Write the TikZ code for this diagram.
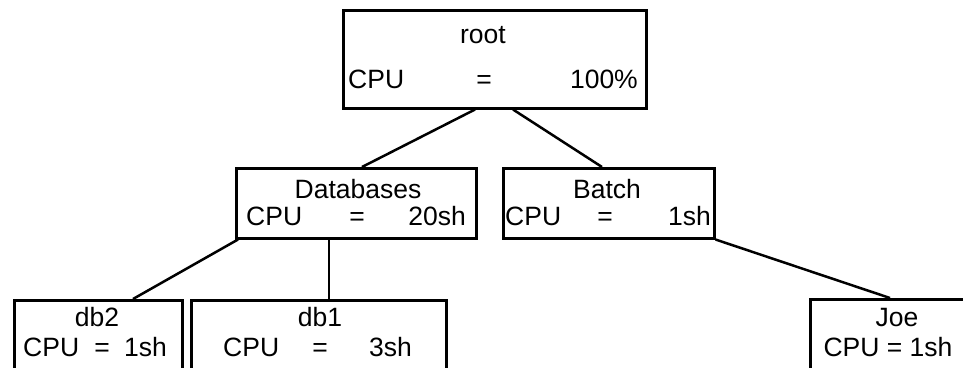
\documentclass[tikz,border=0pt]{standalone}
\usepackage{fontspec}
\setmainfont{Liberation Sans}
\usetikzlibrary{calc}
\begin{document}
\begin{tikzpicture}[x=1pt,y=-1pt,
  box/.style={draw, line width=2.5pt, inner sep=0pt, anchor=north west},
  lbl/.style={inner sep=0pt, text height=0.73em, text depth=0.2em, font=\fontsize{26.5}{26.5}\selectfont},
  conn/.style={line width=2.5pt}]
\useasboundingbox (0,0) rectangle (963,367);
\begin{scope}
\clip (0,0) rectangle (963,367);
% boxes
\node[box, minimum width=303pt, minimum height=98pt] (root) at (342,9) {};
\node[box, minimum width=240pt, minimum height=70pt] (dbs) at (235,167) {};
\node[box, minimum width=211pt, minimum height=70pt] (batch) at (502,167) {};
\node[box, minimum width=168pt, minimum height=90pt] (db2) at (13,299) {};
\node[box, minimum width=255pt, minimum height=90pt] (db1) at (190,299) {};
\node[box, minimum width=180pt, minimum height=90pt] (joe) at (809,298) {};
% root text
\node[lbl, anchor=base] (rootname) at (483,43) {root};
\node[lbl, anchor=base west] (rootk) at (348,88) {CPU};
\node[lbl, anchor=base] (rooteq) at (484,88) {=};
\node[lbl, anchor=base east] (rootv) at (638,88) {100\%};
% Databases text
\node[lbl, anchor=base] (dbsname) at (358,198) {Databases};
\node[lbl, anchor=base west] (dbsk) at (246,225) {CPU};
\node[lbl, anchor=base] (dbseq) at (357,225) {=};
\node[lbl, anchor=base east] (dbsv) at (466,225) {20sh};
% Batch text
\node[lbl, anchor=base] (batchname) at (607,198) {Batch};
\node[lbl, anchor=base west] (batchk) at (505,225) {CPU};
\node[lbl, anchor=base] (batcheq) at (605,225) {=};
\node[lbl, anchor=base east] (batchv) at (711,225) {1sh};
% db2 text
\node[lbl, anchor=base] (db2name) at (97,326) {db2};
\node[lbl, anchor=base west] (db2k) at (23,356) {CPU};
\node[lbl, anchor=base] (db2eq) at (102,356) {=};
\node[lbl, anchor=base east] (db2v) at (167,356) {1sh};
% db1 text
\node[lbl, anchor=base] (db1name) at (320,326) {db1};
\node[lbl, anchor=base west] (db1k) at (223,356) {CPU};
\node[lbl, anchor=base] (db1eq) at (320,356) {=};
\node[lbl, anchor=base east] (db1v) at (412,356) {3sh};
% Joe text
\node[lbl, anchor=base] (joename) at (897,326) {Joe};
\node[lbl, anchor=base] (joecpu) at (888,356) {CPU = 1sh};
% connectors
\draw[conn] ($(root.south west)+(133,0)$) -- ($(dbs.north west)+(127,0)$);
\draw[conn] ($(root.south west)+(171,0)$) -- ($(batch.north west)+(100,0)$);
\draw[conn] ($(dbs.south west)+(3,0)$) -- ($(db2.north west)+(120,0)$);
\draw[conn] ($(dbs.south west)+(94,0)$) -- ($(db1.north west)+(139,0)$);
\draw[conn] (batch.south east) -- ($(joe.north west)+(81,0)$);
\end{scope}
\end{tikzpicture}
\end{document}
